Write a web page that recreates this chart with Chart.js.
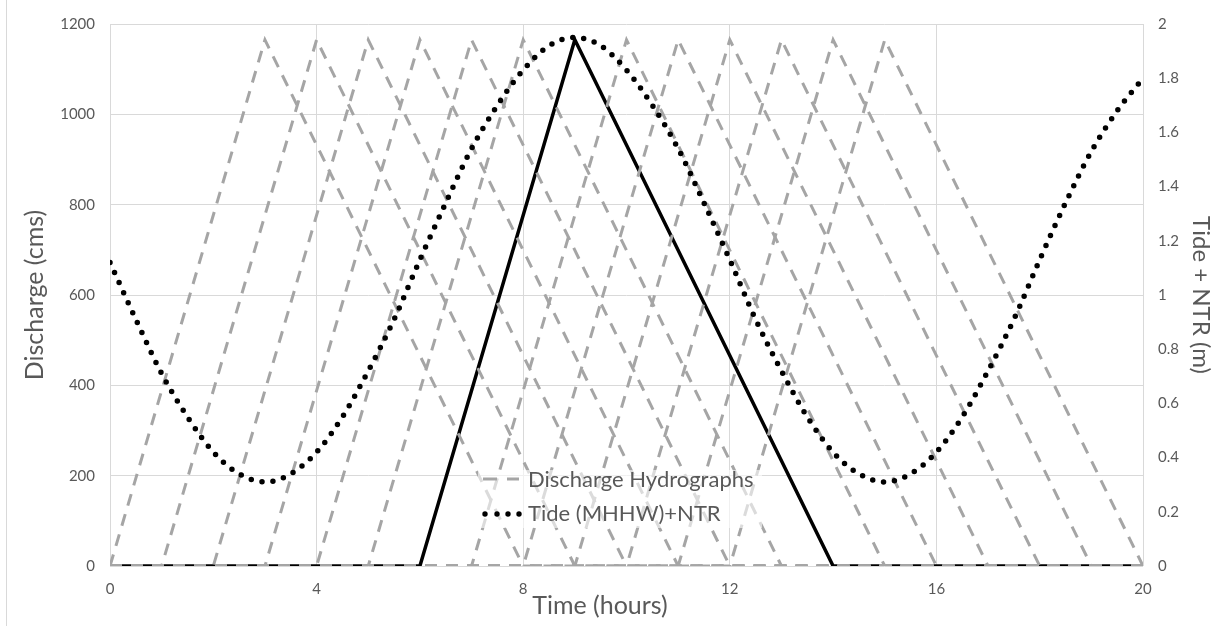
<!DOCTYPE html>
<html>
<head>
<meta charset="utf-8">
<script src="https://cdn.jsdelivr.net/npm/chart.js@4.4.1/dist/chart.umd.min.js"></script>
<style>
  html, body { margin: 0; padding: 0; background: #fff; }
  #wrap { position: relative; width: 1221px; height: 626px; }
</style>
</head>
<body>
<div id="wrap"><canvas id="chart"></canvas></div>
<script>
// tide + NTR record, read every half hour (m)
const tideHours = [0, 0.5, 1, 1.5, 2, 2.5, 3, 3.5, 4, 4.5, 5, 5.5, 6, 6.5, 7, 7.5, 8, 8.5, 9, 9.5,
  10, 10.5, 11, 11.5, 12, 12.5, 13, 13.5, 14, 14.5, 15, 15.5, 16, 16.5, 17, 17.5, 18, 18.5, 19, 19.5, 20];
const tideLevel = [1.12, 0.91, 0.71, 0.55, 0.42, 0.34, 0.31, 0.34, 0.42, 0.55, 0.72, 0.91, 1.13, 1.34,
  1.54, 1.70, 1.83, 1.92, 1.95, 1.92, 1.83, 1.70, 1.54, 1.34, 1.13, 0.91, 0.72, 0.55, 0.42, 0.34, 0.31,
  0.34, 0.42, 0.55, 0.72, 0.91, 1.13, 1.34, 1.53, 1.68, 1.80];

// triangular hydrographs: start hour of each one, and the shape (hours after start, cms)
const hydroStarts = [0, 1, 2, 3, 4, 5, 7, 8, 9, 10, 11, 12];
const highlightStart = 6;
const shapeOffsets = [0, 3, 8];
const shapeDischarge = [0, 1165, 0];

const timeRange = [0, 20];
const dischargeRange = [0, 1200];
const tideRange = [0, 2];

const TEXT = '#595959';
const GRID = '#d9d9d9';
const GRAY = '#a5a5a5';

function hydrograph(start) {
  const pts = [{ x: timeRange[0], y: 0 }];
  shapeOffsets.forEach((off, i) => pts.push({ x: start + off, y: shapeDischarge[i] }));
  pts.push({ x: timeRange[1], y: 0 });
  return pts;
}

const datasets = [
  {
    label: 'Tide (MHHW)+NTR',
    data: tideHours.map((h, i) => ({ x: h, y: tideLevel[i] })),
    yAxisID: 'y2',
    borderColor: '#000',
    borderWidth: 5.5,
    borderDash: [0, 11],
    borderCapStyle: 'round',
    cubicInterpolationMode: 'monotone',
    pointRadius: 0
  }
];
hydroStarts.forEach(s => {
  datasets.push({
    label: 'Discharge Hydrographs',
    data: hydrograph(s),
    yAxisID: 'y',
    borderColor: GRAY,
    borderWidth: 3,
    borderDash: [12, 9],
    pointRadius: 0
  });
});
datasets.push({
  label: 'Highlighted hydrograph',
  data: hydrograph(highlightStart),
  yAxisID: 'y',
  borderColor: '#000',
  borderWidth: 3.5,
  pointRadius: 0
});

// legend inside the plot + x title + outer frame edge
const decorations = {
  id: 'decorations',
  beforeDraw(chart) {
    const ctx = chart.ctx;
    ctx.save();
    ctx.strokeStyle = GRID;
    ctx.lineWidth = 1;
    ctx.beginPath();
    ctx.moveTo(6.5, 0);
    ctx.lineTo(6.5, chart.height);
    ctx.stroke();
    ctx.restore();
  },
  afterDatasetsDraw(chart) {
    const ctx = chart.ctx;
    ctx.save();
    ctx.fillStyle = 'rgba(255,255,255,0.6)';
    ctx.fillRect(478, 470, 284, 58);

    ctx.strokeStyle = GRAY;
    ctx.lineWidth = 3;
    ctx.setLineDash([14, 10]);
    ctx.beginPath();
    ctx.moveTo(483, 479);
    ctx.lineTo(519, 479);
    ctx.stroke();
    ctx.setLineDash([]);

    ctx.fillStyle = '#000';
    [485, 497, 508, 519].forEach(x => {
      ctx.beginPath();
      ctx.arc(x, 514, 2.7, 0, Math.PI * 2);
      ctx.fill();
    });

    ctx.fillStyle = TEXT;
    ctx.font = '22px Lato';
    ctx.textBaseline = 'middle';
    ctx.textAlign = 'left';
    ctx.fillText('Discharge Hydrographs', 528, 480);
    ctx.fillText('Tide (MHHW)+NTR', 528, 514);

    ctx.font = '25px Lato';
    ctx.textAlign = 'center';
    ctx.fillText('Time (hours)', 600, 606);
    ctx.restore();
  }
};

Chart.defaults.font.family = 'Lato';
Chart.defaults.color = TEXT;

new Chart(document.getElementById('chart'), {
  type: 'line',
  data: { datasets },
  plugins: [decorations],
  options: {
    responsive: true,
    maintainAspectRatio: false,
    animation: false,
    layout: { padding: { top: 18, left: 0, right: 0, bottom: 0 } },
    plugins: {
      legend: { display: false },
      tooltip: { enabled: false }
    },
    scales: {
      x: {
        type: 'linear',
        min: timeRange[0],
        max: timeRange[1],
        ticks: { stepSize: 4, padding: 14, font: { size: 15 }, color: TEXT },
        grid: { color: GRID, drawTicks: false },
        border: { display: false },
        afterFit: s => { s.height = 60; }
      },
      y: {
        position: 'left',
        min: dischargeRange[0],
        max: dischargeRange[1],
        ticks: {
          stepSize: 200,
          padding: 15,
          font: { size: 15 },
          color: TEXT,
          callback: v => String(v)
        },
        grid: { color: GRID, drawTicks: false },
        border: { display: false },
        title: {
          display: true,
          text: 'Discharge (cms)',
          color: TEXT,
          font: { size: 25 },
          padding: { top: 20, bottom: 0 }
        },
        afterFit: s => { s.width = 110; }
      },
      y2: {
        position: 'right',
        min: tideRange[0],
        max: tideRange[1],
        ticks: {
          stepSize: 0.2,
          padding: 15,
          font: { size: 15 },
          color: TEXT,
          callback: v => String(Math.round(v * 10) / 10)
        },
        grid: { display: false, drawTicks: false },
        border: { display: false },
        title: {
          display: true,
          text: 'Tide + NTR (m)',
          color: TEXT,
          font: { size: 24 },
          padding: { top: 6, bottom: 0 }
        },
        afterFit: s => { s.width = 78; }
      }
    }
  }
});
</script>
</body>
</html>
